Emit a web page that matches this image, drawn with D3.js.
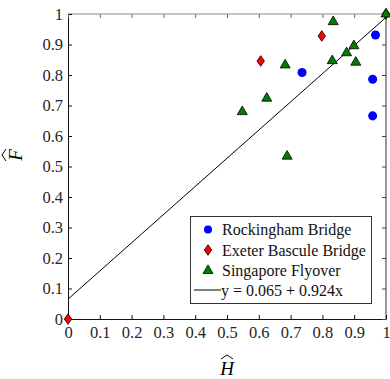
<!DOCTYPE html>
<html>
<head>
<meta charset="utf-8">
<script src="https://cdn.jsdelivr.net/npm/d3@7"></script>
<style>
	body { margin: 0; background: #fff; }
	svg { display: block; font-family: 'Liberation Serif', 'Times New Roman', serif; }
</style>
</head>
<body>
<div id="chart"></div>
<script>
// data
var rockinghamH = [0.967, 0.736, 0.958, 0.958];
var rockinghamF = [0.931, 0.808, 0.786, 0.666];
var exeterH = [0.798, 0.606, 0, 1];
var exeterF = [0.928, 0.846, 0, 1];
var singaporeH = [0.834, 1, 0.899, 0.876, 0.831, 0.905, 0.683, 0.625, 0.548, 0.689];
var singaporeF = [0.975, 1, 0.896, 0.873, 0.847, 0.842, 0.833, 0.724, 0.680, 0.534];
var fitIntercept = 0.065, fitSlope = 0.924;
var legendLabels = ['Rockingham Bridge', 'Exeter Bascule Bridge', 'Singapore Flyover', 'y = 0.065 + 0.924x'];
var ticks = [0, 0.1, 0.2, 0.3, 0.4, 0.5, 0.6, 0.7, 0.8, 0.9, 1];

(function() {
	var width = 390, height = 379,
		left = 68, right = 386, top = 14, bottom = 319;

	var x = d3.scaleLinear().domain([0, 1]).range([left, right]);
	var y = d3.scaleLinear().domain([0, 1]).range([bottom, top]);

	var svg = d3.select('#chart').append('svg')
		.attr('width', width)
		.attr('height', height);

	// box lines
	svg.append('line').attr('x1', left).attr('x2', right).attr('y1', top).attr('y2', top)
		.attr('stroke', '#888').attr('stroke-width', 1.2);
	svg.append('line').attr('x1', right).attr('x2', right).attr('y1', top).attr('y2', bottom)
		.attr('stroke', '#333').attr('stroke-width', 1);

	var fmt = function(d) { return d === 0 || d === 1 ? String(d) : d3.format('.1f')(d); };

	var xAxis = svg.append('g').attr('transform', 'translate(0,' + bottom + ')')
		.call(d3.axisBottom(x).tickValues(ticks).tickSizeInner(-4).tickSizeOuter(0).tickPadding(7).tickFormat(fmt));
	var yAxis = svg.append('g').attr('transform', 'translate(' + left + ',0)')
		.call(d3.axisLeft(y).tickValues(ticks).tickSizeInner(-4).tickSizeOuter(0).tickPadding(5).tickFormat(fmt));
	svg.append('g').attr('transform', 'translate(0,' + top + ')')
		.call(d3.axisTop(x).tickValues(ticks).tickSizeInner(-4).tickSizeOuter(0).tickFormat(''))
		.call(function(g) { g.select('.domain').remove(); g.selectAll('line').attr('stroke', '#666'); });
	svg.append('g').attr('transform', 'translate(' + right + ',0)')
		.call(d3.axisRight(y).tickValues(ticks).tickSizeInner(-4).tickSizeOuter(0).tickFormat(''))
		.call(function(g) { g.select('.domain').remove(); g.selectAll('line').attr('stroke', '#444'); });

	[xAxis, yAxis].forEach(function(a) {
		a.selectAll('text').attr('font-family', 'Liberation Serif').attr('font-size', 16.5).attr('fill', '#262626');
		a.select('.domain').attr('stroke', '#111');
		a.selectAll('line').attr('stroke', '#111');
	});

	// fit line
	svg.append('line')
		.attr('x1', x(0)).attr('y1', y(fitIntercept))
		.attr('x2', x(1)).attr('y2', y(fitIntercept + fitSlope))
		.attr('stroke', '#000').attr('stroke-width', 1);

	var circle = d3.symbol().type(d3.symbolCircle).size(64);
	var diamondPath = 'M0,-5.3L3.7,0L0,5.3L-3.7,0Z';
	var trianglePath = 'M0,-5.6L5,3L-5,3Z';

	function drawSeries(hs, fs, path, fill) {
		svg.append('g').selectAll('path')
			.data(d3.range(hs.length))
			.enter()
			.append('path')
			.attr('d', path)
			.attr('transform', function(i) { return 'translate(' + x(hs[i]) + ',' + y(fs[i]) + ')'; })
			.attr('fill', fill)
			.attr('stroke', fill === '#0000ff' ? 'none' : '#000')
			.attr('stroke-width', 0.8);
	}
	drawSeries(rockinghamH, rockinghamF, circle(), '#0000ff');
	drawSeries(exeterH, exeterF, diamondPath, '#ff0000');
	drawSeries(singaporeH, singaporeF, trianglePath, '#007f00');

	// legend
	var lg = svg.append('g');
	lg.append('rect').attr('x', 190.5).attr('y', 216.5).attr('width', 181).attr('height', 87)
		.attr('fill', '#fff').attr('stroke', '#333').attr('stroke-width', 1);
	var rows = [229.5, 250, 270.5, 290];
	lg.append('path').attr('d', circle.size(50)()).attr('transform', 'translate(208,' + rows[0] + ')').attr('fill', '#0000ff');
	lg.append('path').attr('d', diamondPath).attr('transform', 'translate(208,' + rows[1] + ')')
		.attr('fill', '#ff0000').attr('stroke', '#000').attr('stroke-width', 0.8);
	lg.append('path').attr('d', trianglePath).attr('transform', 'translate(208,' + rows[2] + ')')
		.attr('fill', '#007f00').attr('stroke', '#000').attr('stroke-width', 0.8);
	lg.append('line').attr('x1', 194).attr('x2', 221).attr('y1', rows[3]).attr('y2', rows[3])
		.attr('stroke', '#000').attr('stroke-width', 1);
	lg.selectAll('text').data(legendLabels).enter().append('text')
		.attr('x', function(d, i) { return i === 3 ? 221 : 222; })
		.attr('y', function(d, i) { return rows[i]; })
		.attr('dy', '0.35em')
		.attr('font-size', 16)
		.attr('fill', '#111')
		.text(function(d) { return d; });

	// axis labels with wide hats
	var hx = svg.append('g').attr('transform', 'translate(227,375)');
	hx.append('text').attr('text-anchor', 'middle').attr('font-size', 19).attr('font-style', 'italic').text('H');
	hx.append('path').attr('d', 'M-6,-16L0,-20L6,-16').attr('fill', 'none').attr('stroke', '#000').attr('stroke-width', 1);

	var fy = svg.append('g').attr('transform', 'translate(22,155) rotate(-90)');
	fy.append('text').attr('text-anchor', 'middle').attr('font-size', 19).attr('font-style', 'italic').text('F');
	fy.append('path').attr('d', 'M-6,-16L0,-20L6,-16').attr('fill', 'none').attr('stroke', '#000').attr('stroke-width', 1);
})();
</script>
</body>
</html>
